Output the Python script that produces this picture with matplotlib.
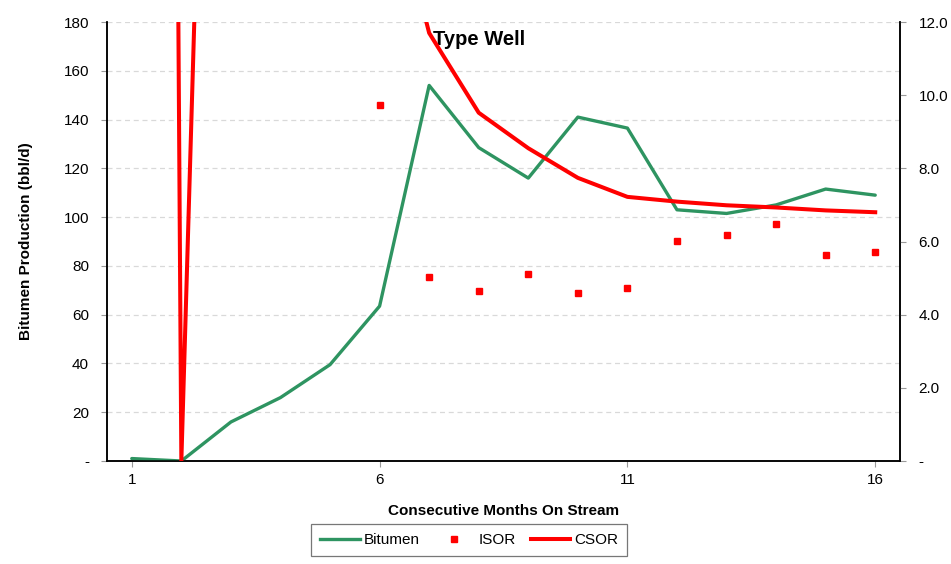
import numpy as np
import matplotlib
matplotlib.use("Agg")
import matplotlib.pyplot as plt
from matplotlib.lines import Line2D

plt.rcParams['font.family'] = ['Liberation Sans', 'DejaVu Sans']

months = np.arange(1, 17)
bitumen = [1, 0, 16, 26, 39.5, 63.5, 154, 128.5, 116, 141, 136.5, 103, 101.5, 105, 111.5, 109]
csor = [200, 0, 46, 30, 22, 17, 11.7, 9.52, 8.55, 7.74, 7.22, 7.09, 6.99, 6.93, 6.85, 6.8]
isor = [np.nan, np.nan, np.nan, np.nan, np.nan, 9.73, 5.03, 4.65, 5.11, 4.59, 4.73, 6.02, 6.17, 6.47, 5.63, 5.7]

left_ticks = [0, 20, 40, 60, 80, 100, 120, 140, 160, 180]
left_labels = ['-', '20', '40', '60', '80', '100', '120', '140', '160', '180']
right_ticks = [0, 2, 4, 6, 8, 10, 12]
right_labels = ['-', '2.0', '4.0', '6.0', '8.0', '10.0', '12.0']
x_ticks = [1, 6, 11, 16]

green = '#2e9461'
red = '#ff0000'

fig = plt.figure(figsize=(9.51, 5.64), dpi=100)
ax = fig.add_axes([107/951, 1-461/564, (900-107)/951, (461-22)/564])
ax2 = ax.twinx()

ax.plot(months, bitumen, color=green, lw=2.4, solid_capstyle='round', zorder=3)
ax2.plot(months, csor, color=red, lw=2.9, zorder=3)
ax2.plot(months, isor, ls='none', marker='s', ms=4.2, color=red, mec=red, zorder=3)

ax.set_xlim(0.5, 16.5)
ax.set_ylim(0, 180)
ax2.set_ylim(0, 12)

ax.set_yticks(left_ticks)
ax.set_yticklabels(left_labels)
ax2.set_yticks(right_ticks)
ax2.set_yticklabels(right_labels)
ax.set_xticks(x_ticks)

ax.grid(axis='y', color='#d9d9d9', ls=(0, (4, 3)), lw=0.9)
ax.set_axisbelow(True)

for a in (ax, ax2):
    a.spines['top'].set_visible(False)
    for s in ('left', 'right', 'bottom'):
        a.spines[s].set_linewidth(1.1)
        a.spines[s].set_color('black')
    a.tick_params(labelsize=11, length=4, width=0.8, color='#999999')

ax.tick_params(axis='y', pad=9)
ax2.tick_params(axis='y', pad=9.5)
ax.tick_params(axis='x', pad=5)

ax.set_ylabel('Bitumen Production (bbl/d)', fontsize=11, fontweight='bold', labelpad=22)
ax.set_xlabel('Consecutive Months On Stream', fontsize=11, fontweight='bold', labelpad=12)

ax.text(0.411, 0.96, 'Type Well', transform=ax.transAxes, fontsize=14.5, fontweight='bold',
        ha='left', va='center')

handles = [
    Line2D([], [], color=green, lw=2.4),
    Line2D([], [], color=red, ls='none', marker='s', ms=4.2),
    Line2D([], [], color=red, lw=2.9),
]
leg = fig.legend(handles, ['Bitumen', 'ISOR', 'CSOR'], loc='center', bbox_to_anchor=(469/951, 1-540/564),
                 ncol=3, frameon=True, fancybox=False, edgecolor='#555555', fontsize=11,
                 handlelength=2.6, handletextpad=0.25, columnspacing=1.0, borderpad=0.6)
leg.get_frame().set_linewidth(0.9)

fig.savefig('out.png', dpi=100)
